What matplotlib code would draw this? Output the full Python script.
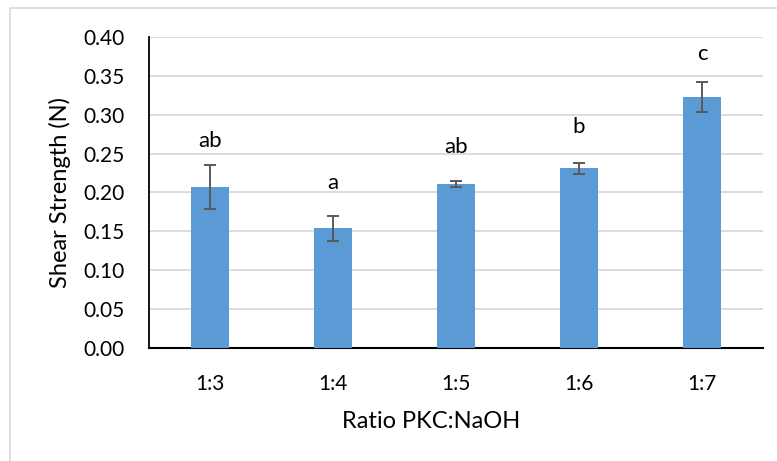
import matplotlib
matplotlib.use("Agg")
from matplotlib import pyplot as plt
from matplotlib.patches import Rectangle

# data
ratios = ["1:3", "1:4", "1:5", "1:6", "1:7"]
strength = [0.207, 0.154, 0.211, 0.231, 0.323]
errors = [0.028, 0.016, 0.0035, 0.0067, 0.0195]
letters = ["ab", "a", "ab", "b", "c"]
letter_y = [0.267, 0.212, 0.259, 0.285, 0.378]

plt.rcParams['font.family'] = ['Lato', 'DejaVu Sans']

fig = plt.figure(figsize=(7.77, 4.61), dpi=100)
# light border around the chart area, as in the spreadsheet export
fig.patches.append(Rectangle((10/777, -0.1), 1.1, 1 - 8/461 + 0.1,
                             transform=fig.transFigure, fill=False,
                             edgecolor="#D9D9D9", linewidth=1.2))

ax = fig.add_axes([0.1914, 0.2458, 0.7912, 0.6733])
x = range(len(ratios))
ax.bar(x, strength, width=0.314, color="#5B9BD5", zorder=3,
       yerr=errors, error_kw=dict(ecolor="#595959", elinewidth=1.4,
                                  capsize=4.3, capthick=1.4, zorder=4))
for i, t in enumerate(letters):
    ax.text(i, letter_y[i], t, ha="center", va="center", fontsize=16,
            color="black", zorder=5)

ax.set_xlim(-0.5, len(ratios) - 0.5)
ax.set_ylim(0, 0.40)
ax.set_yticks([i * 0.05 for i in range(9)])
ax.set_yticklabels(["%.2f" % (i * 0.05) for i in range(9)])
ax.set_xticks(list(x))
ax.set_xticklabels(ratios)
ax.tick_params(axis="both", length=0, labelsize=15, colors="black")
ax.tick_params(axis="x", pad=19)
ax.tick_params(axis="y", pad=17)
ax.grid(axis="y", color="#D9D9D9", linewidth=1.3, zorder=0)
ax.set_axisbelow(True)
for s in ["top", "right"]:
    ax.spines[s].set_visible(False)
ax.spines["left"].set_linewidth(1.3)
ax.spines["bottom"].set_linewidth(1.5)

ax.set_ylabel("Shear Strength (N)", fontsize=17, va="center")
ax.yaxis.set_label_coords(-0.144, 0.5)
ax.set_xlabel("Ratio PKC:NaOH", fontsize=17, va="center")
ax.xaxis.set_label_coords(0.46, -0.237)

fig.savefig("out.png", dpi=100)
